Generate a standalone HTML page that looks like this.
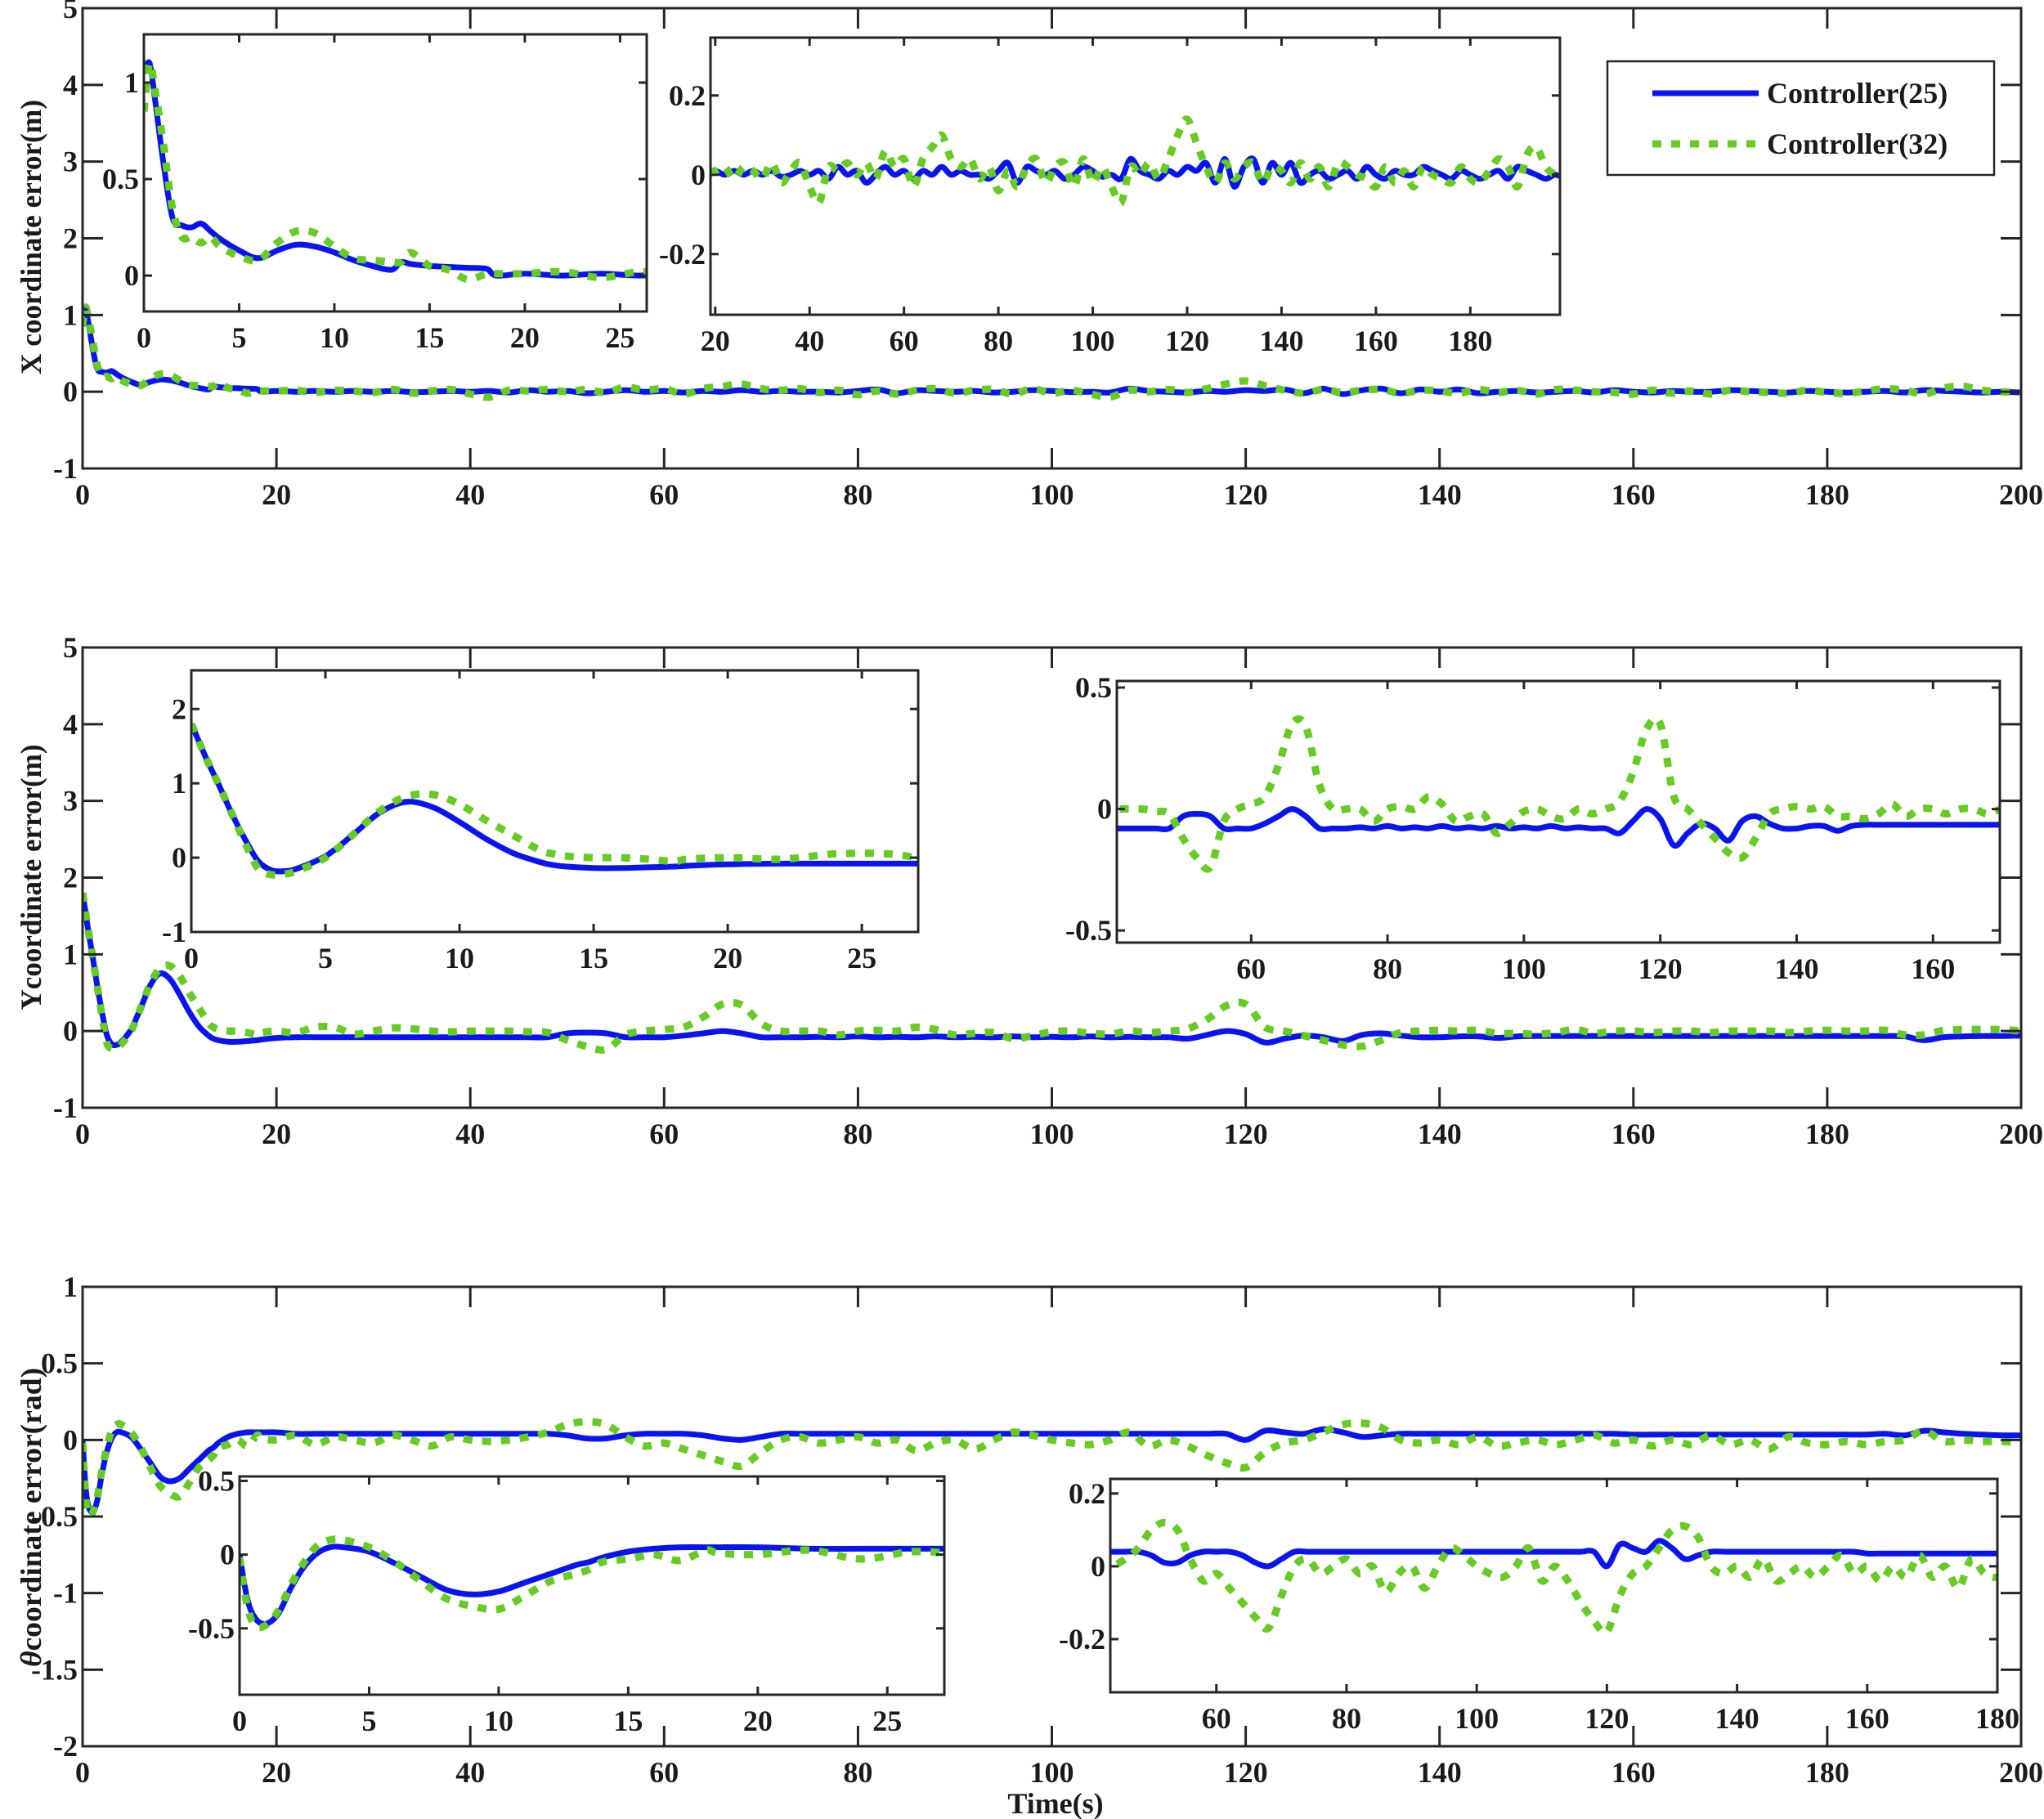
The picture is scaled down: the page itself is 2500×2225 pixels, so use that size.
<!DOCTYPE html>
<html><head><meta charset="utf-8"><style>
html,body{margin:0;padding:0;background:#fff;}
svg{display:block;}
text{font-family:"Liberation Serif",serif;font-weight:bold;fill:#1a1a1a;}
</style></head><body>
<svg id="chart" xmlns="http://www.w3.org/2000/svg" width="2500" height="2225" viewBox="0 0 2500 2225"></svg>
<script>
// ---- shared time grid ----
const timeGrid=[0,0.3,0.6,1,1.5,2,2.5,3,3.5,4,5,6,7,8,9,10,11,12,13,13.5,14,15,16,17,18,18.5,
20,22,24,26,28,30,32,34,36,38,40,42,44,46,48,50,52,54,56,58,60,62,64,66,68,70,72,74,76,78,80,
82,84,86,88,90,92,94,96,98,100,102,104,106,108,110,112,114,116,118,120,122,124,126,128,130,132,134,136,138,140,
142,144,146,148,150,152,154,156,158,160,162,164,166,168,170,172,174,176,178,180,182,184,186,188,190,192,194,196,198,200];
// ---- X error ----
const xBlue=[1.05,1.1,0.9,0.6,0.3,0.26,0.25,0.27,0.23,0.19,0.13,0.09,0.13,0.16,0.15,0.12,0.08,0.05,0.03,0.07,0.06,0.05,0.045,0.04,0.035,0.0,
0.01,0.0,0.01,0.0,0.01,0.0,0.01,-0.005,0.0,0.01,0.0,0.01,-0.01,0.02,0.0,0.01,-0.02,0.0,0.02,0.0,0.01,-0.01,0.01,0.0,0.02,0.0,0.01,0.0,0.0,-0.01,0.01,
0.03,-0.02,0.02,0.01,0.0,0.01,-0.01,0.0,0.02,0.01,-0.005,0.0,-0.01,0.04,0.01,0.0,-0.01,0.01,0.0,0.02,0.01,0.03,-0.02,0.04,-0.03,0.02,0.04,-0.02,0.03,0.0,
0.03,-0.02,0.0,0.01,-0.01,0.0,0.01,-0.01,0.02,0.0,-0.01,0.01,0.0,0.0,0.02,0.01,0.0,-0.01,0.01,0.0,-0.01,0.0,0.01,-0.01,0.02,0.01,0.0,-0.01,0.0,-0.01];
const xGreen=[0.85,1.1,0.95,0.7,0.35,0.2,0.2,0.17,0.2,0.15,0.1,0.08,0.17,0.23,0.22,0.15,0.09,0.08,0.07,0.07,0.12,0.05,0.03,-0.02,0.01,0.01,
0.01,0.02,-0.01,0.02,0.01,-0.01,0.03,-0.02,0.01,0.03,-0.03,-0.07,0.02,0.01,0.03,0.0,0.03,-0.01,0.06,0.02,0.04,-0.03,0.04,0.07,0.1,0.04,0.02,0.04,-0.01,0.02,-0.04,
0.01,-0.03,0.02,0.04,-0.02,0.02,0.03,-0.03,0.04,-0.02,0.02,-0.03,-0.07,0.02,0.0,0.03,-0.01,0.04,0.1,0.14,0.08,0.02,-0.02,0.03,-0.01,0.02,0.03,-0.02,0.02,0.01,
-0.02,0.03,-0.01,0.02,-0.03,0.03,0.02,0.0,-0.01,-0.03,0.02,-0.02,0.01,-0.03,0.02,0.0,-0.01,-0.02,0.02,-0.01,-0.02,0.01,0.04,0.02,-0.03,0.05,0.07,0.02,0.0,-0.01];
// ---- Y error ----
const yBlue=[1.8,1.55,1.3,1.0,0.6,0.25,-0.05,-0.17,-0.18,-0.14,0.02,0.3,0.6,0.75,0.68,0.48,0.25,0.06,-0.06,-0.1,-0.12,-0.14,-0.14,-0.13,-0.12,-0.11,
-0.09,-0.08,-0.08,-0.08,-0.08,-0.08,-0.08,-0.08,-0.08,-0.08,-0.08,-0.08,-0.08,-0.08,-0.08,-0.03,-0.02,-0.03,-0.08,-0.08,-0.08,-0.06,-0.03,0.0,-0.03,-0.08,-0.08,-0.08,-0.075,-0.08,-0.07,
-0.08,-0.075,-0.08,-0.07,-0.08,-0.075,-0.08,-0.07,-0.08,-0.075,-0.08,-0.07,-0.08,-0.075,-0.08,-0.08,-0.1,-0.05,0.0,-0.04,-0.15,-0.1,-0.06,-0.08,-0.13,-0.05,-0.03,-0.06,-0.08,-0.08,
-0.07,-0.07,-0.09,-0.07,-0.065,-0.065,-0.065,-0.065,-0.065,-0.065,-0.065,-0.065,-0.065,-0.065,-0.065,-0.065,-0.065,-0.065,-0.065,-0.065,-0.065,-0.065,-0.065,-0.07,-0.12,-0.08,-0.07,-0.065,-0.065,-0.06];
const yGreen=[1.8,1.55,1.3,1.0,0.6,0.2,-0.15,-0.23,-0.22,-0.17,0.0,0.3,0.62,0.82,0.85,0.72,0.5,0.3,0.1,0.05,0.02,0.0,0.0,-0.02,-0.05,-0.02,
0.0,-0.02,0.05,0.05,-0.04,0.0,0.04,0.03,0.0,-0.01,0.0,0.0,0.0,-0.01,-0.02,-0.12,-0.2,-0.24,-0.05,0.0,0.02,0.05,0.18,0.35,0.34,0.1,0.0,0.0,0.0,-0.05,0.0,
0.01,0.0,0.05,0.02,-0.05,-0.03,-0.02,-0.1,-0.06,-0.01,0.0,-0.03,-0.04,0.0,-0.02,0.0,0.03,0.15,0.33,0.35,0.05,0.0,-0.06,-0.12,-0.18,-0.2,-0.12,-0.02,0.0,0.01,
0.0,0.01,-0.03,-0.03,-0.04,-0.02,0.02,-0.03,0.0,0.0,-0.02,0.0,0.0,-0.02,0.0,0.0,0.0,-0.02,0.0,0.01,0.0,0.0,0.01,-0.05,-0.05,0.01,0.02,0.02,0.02,0.0];
// ---- theta error ----
const thBlue=[0,-0.3,-0.43,-0.47,-0.4,-0.22,-0.08,0.01,0.05,0.05,0.02,-0.06,-0.15,-0.24,-0.27,-0.25,-0.19,-0.13,-0.07,-0.05,-0.02,0.02,0.04,0.05,0.05,0.05,
0.05,0.04,0.04,0.04,0.04,0.04,0.04,0.04,0.04,0.04,0.04,0.04,0.04,0.04,0.04,0.03,0.01,0.01,0.03,0.04,0.04,0.04,0.03,0.01,0.0,0.02,0.04,0.04,0.04,0.04,0.04,
0.04,0.04,0.04,0.04,0.04,0.04,0.04,0.04,0.04,0.04,0.04,0.04,0.04,0.04,0.04,0.04,0.04,0.04,0.04,0.0,0.06,0.05,0.04,0.07,0.05,0.02,0.03,0.04,0.04,0.04,
0.04,0.04,0.04,0.04,0.04,0.04,0.04,0.04,0.04,0.035,0.035,0.035,0.035,0.035,0.035,0.035,0.035,0.035,0.035,0.035,0.035,0.035,0.04,0.03,0.06,0.05,0.04,0.035,0.03,0.03];
const thGreen=[-0.02,-0.35,-0.48,-0.48,-0.38,-0.2,-0.05,0.06,0.1,0.1,0.05,-0.05,-0.18,-0.3,-0.35,-0.37,-0.28,-0.18,-0.13,-0.1,-0.05,-0.03,0.0,-0.04,0.03,0.01,
0.0,0.03,-0.03,0.02,0.0,-0.02,0.03,0.0,-0.04,0.02,0.0,-0.01,0.0,0.02,0.05,0.1,0.12,0.1,0.02,-0.04,-0.02,-0.06,-0.1,-0.14,-0.17,-0.08,0.0,0.02,-0.02,0.0,0.02,
-0.02,0.0,-0.07,-0.02,0.0,-0.06,0.0,0.05,0.03,0.0,-0.02,-0.03,0.0,0.05,-0.04,0.0,-0.04,-0.1,-0.15,-0.18,-0.08,-0.02,0.0,0.05,0.1,0.11,0.08,0.0,-0.02,0.0,
-0.03,0.02,-0.04,-0.02,0.0,-0.03,0.0,0.03,-0.02,0.0,-0.04,0.0,-0.03,0.03,-0.03,0.0,-0.06,0.02,-0.02,-0.03,-0.01,-0.03,-0.01,0.0,0.06,-0.01,0.0,-0.01,-0.01,-0.02];
// ---- tick labels ----
const mainXTicks=[0,20,40,60,80,100,120,140,160,180,200];
const xyMainYTicks=[-1,0,1,2,3,4,5];
const thMainYTicks=[-2,-1.5,-1,-0.5,0,0.5,1];
const earlyXTicks=[0,5,10,15,20,25];
const xIn2XTicks=[20,40,60,80,100,120,140,160,180];
const yIn2XTicks=[60,80,100,120,140,160];
const thIn2XTicks=[60,80,100,120,140,160,180];
const legendLabels=["Controller(25)","Controller(32)"];

const NS="http://www.w3.org/2000/svg";
const svg=document.getElementById('chart');
let clipId=0;
function el(tag,attrs,parent){const e=document.createElementNS(NS,tag);for(const k in attrs)e.setAttribute(k,attrs[k]);(parent||svg).appendChild(e);return e;}
function fmt(v){return (Math.round(v*100)/100).toString();}
function makeScale(d0,d1,r0,r1){return v=>r0+(v-d0)*(r1-r0)/(d1-d0);}
function smoothPath(pts){
  let d='M'+pts[0][0].toFixed(1)+','+pts[0][1].toFixed(1);
  for(let i=0;i<pts.length-1;i++){
    const p0=pts[Math.max(0,i-1)],p1=pts[i],p2=pts[i+1],p3=pts[Math.min(pts.length-1,i+2)];
    const c1x=p1[0]+(p2[0]-p0[0])/6,c1y=p1[1]+(p2[1]-p0[1])/6;
    const c2x=p2[0]-(p3[0]-p1[0])/6,c2y=p2[1]-(p3[1]-p1[1])/6;
    d+=' C'+c1x.toFixed(1)+','+c1y.toFixed(1)+' '+c2x.toFixed(1)+','+c2y.toFixed(1)+' '+p2[0].toFixed(1)+','+p2[1].toFixed(1);
  }
  return d;
}
function panel(name,box,xd,yd,xt,yt,tickLen,blue,green){
  const g=el('g',{});
  
  
  const sx=makeScale(xd[0],xd[1],box.l,box.r), sy=makeScale(yd[0],yd[1],box.b,box.t);
  const bg=el('rect',{x:box.l,y:box.t,width:box.r-box.l,height:box.b-box.t,fill:'#fff'},g);
  
  
  const id='clip'+(clipId++);
  const cp=el('clipPath',{id:id},g);
  el('rect',{x:box.l,y:box.t,width:box.r-box.l,height:box.b-box.t},cp);
  const series=[[blue,'#0a14f0',7,null,'controller-25-line'],[green,'#66cc22',9,'11 12','controller-32-line']];
  series.forEach(s=>{
    const pts=[];
    for(let i=0;i<timeGrid.length;i++){
      const t=timeGrid[i];
      if(t<xd[0]-3||t>xd[1]+3)continue;
      let v=s[0][i];
      if(v===undefined)v=s[0][s[0].length-1];
      pts.push([sx(t),sy(v)]);
    }
    const p=el('path',{d:smoothPath(pts),fill:'none',stroke:s[1],'stroke-width':s[2],'clip-path':'url(#'+id+')','stroke-linejoin':'round'},g);
    if(s[3])p.setAttribute('stroke-dasharray',s[3]);
    
    
  });
  const ax=el('g',{stroke:'#262626','stroke-width':3,fill:'none'},g);
  el('rect',{x:box.l,y:box.t,width:box.r-box.l,height:box.b-box.t},ax);
  xt.forEach(v=>{
    const x=sx(v);
    el('line',{x1:x,y1:box.b,x2:x,y2:box.b-tickLen},ax);
    el('line',{x1:x,y1:box.t,x2:x,y2:box.t+tickLen},ax);
    const tx=el('text',{x:x,y:box.b+44,'text-anchor':'middle','font-size':36},g);
    tx.textContent=fmt(v);
    
    
  });
  yt.forEach(v=>{
    const y=sy(v);
    el('line',{x1:box.l,y1:y,x2:box.l+tickLen,y2:y},ax);
    el('line',{x1:box.r,y1:y,x2:box.r-tickLen,y2:y},ax);
    const tx=el('text',{x:box.l-6,y:y+12,'text-anchor':'end','font-size':36},g);
    tx.textContent=fmt(v);
    
    
  });
}
function ytitle(txt,cy,len,name,theta){
  const t=el('text',{transform:'translate(50,'+cy+') rotate(-90)','text-anchor':'middle','font-size':36,textLength:len,lengthAdjust:'spacingAndGlyphs'});
  if(theta){
    const a=el('tspan',{'font-style':'italic'},t);a.textContent='θ';
    const b=el('tspan',{},t);b.textContent=txt;
  } else t.textContent=txt;
  
  
}
// top: X
panel('x-error-main',{l:101,r:2472,t:10,b:573},[0,200],[-1,5],mainXTicks,xyMainYTicks,25,xBlue,xGreen);
panel('x-error-inset-early',{l:176,r:791,t:42,b:381},[0,26.4],[-0.186,1.25],earlyXTicks,[0,0.5,1],10,xBlue,xGreen);
panel('x-error-inset-late',{l:869,r:1908,t:46,b:385},[19,199],[-0.353,0.346],xIn2XTicks,[-0.2,0,0.2],10,xBlue,xGreen);
ytitle('X coordinate error(m)',290,336,'x-y-axis-title',false);
// middle: Y
panel('y-error-main',{l:101,r:2472,t:792,b:1355},[0,200],[-1,5],mainXTicks,xyMainYTicks,25,yBlue,yGreen);
panel('y-error-inset-early',{l:234,r:1123,t:820,b:1140},[0,27.1],[-1,2.52],earlyXTicks,[-1,0,1,2],10,yBlue,yGreen);
panel('y-error-inset-late',{l:1366,r:2446,t:833,b:1153},[40.3,169.8],[-0.55,0.527],yIn2XTicks,[-0.5,0,0.5],10,yBlue,yGreen);
ytitle('Ycoordinate error(m)',1073,325,'y-y-axis-title',false);
// bottom: theta
panel('theta-error-main',{l:101,r:2472,t:1574,b:2136},[0,200],[-2,1],mainXTicks,thMainYTicks,25,thBlue,thGreen);
panel('theta-error-inset-early',{l:293,r:1155,t:1806,b:2073},[0,27.2],[-0.95,0.53],earlyXTicks,[-0.5,0,0.5],10,thBlue,thGreen);
panel('theta-error-inset-late',{l:1358,r:2443,t:1809,b:2070},[43.7,180],[-0.346,0.24],thIn2XTicks,[-0.2,0,0.2],10,thBlue,thGreen);
ytitle('coordinate error(rad)',1856,366,'theta-y-axis-title',true);
// x title
const xt=el('text',{x:1291,y:2218,'text-anchor':'middle','font-size':36});
xt.textContent='Time(s)';


// legend
const lg=el('g',{});


el('rect',{x:1966,y:75,width:473,height:139,fill:'#fff',stroke:'#262626','stroke-width':2.5},lg);
const l1=el('line',{x1:2021,y1:114,x2:2151,y2:114,stroke:'#0a14f0','stroke-width':7},lg);


const l2=el('line',{x1:2021,y1:176,x2:2151,y2:176,stroke:'#66cc22','stroke-width':9,'stroke-dasharray':'11 12'},lg);


const t1=el('text',{x:2161,y:126,'font-size':36},lg);t1.textContent=legendLabels[0];


const t2=el('text',{x:2161,y:188,'font-size':36},lg);t2.textContent=legendLabels[1];


</script>
</body></html>
